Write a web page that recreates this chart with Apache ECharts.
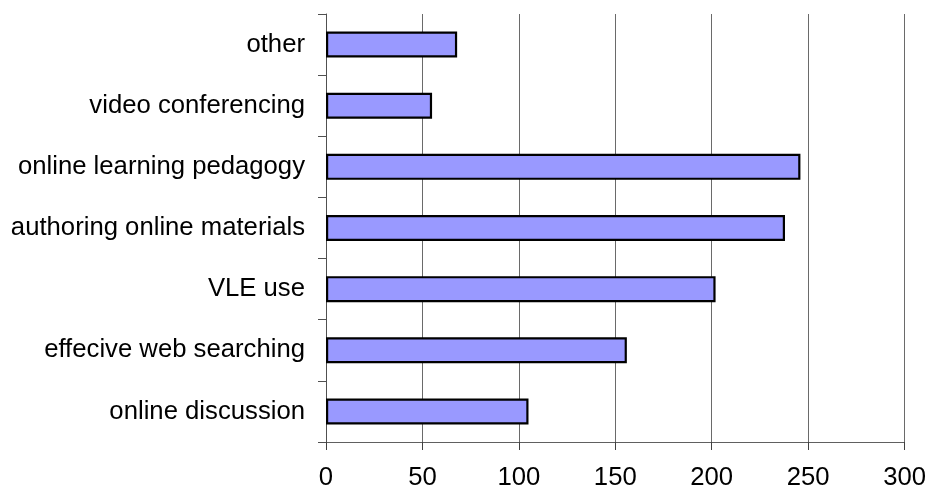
<!DOCTYPE html>
<html>
<head>
<meta charset="utf-8">
<script src="https://cdn.jsdelivr.net/npm/echarts@6/dist/echarts.min.js"></script>
<style>
  html, body { margin: 0; padding: 0; background: #fff; }
  #chart { width: 929px; height: 491px; }
</style>
</head>
<body>
<div id="chart"></div>
<script>
// Training topics, listed bottom to top as they appear on the category axis
const categories = [
  'online discussion',
  'effecive web searching',
  'VLE use',
  'authoring online materials',
  'online learning pedagogy',
  'video conferencing',
  'other'
];
const responses = [105, 156, 202, 238, 246, 55, 68];
const xTicks = [0, 50, 100, 150, 200, 250, 300];

const chart = echarts.init(document.getElementById('chart'));
const font = 'Liberation Sans, Arial, sans-serif';

chart.setOption({
  animation: false,
  backgroundColor: '#ffffff',
  grid: { left: 326, right: 23, top: 14, bottom: 47, containLabel: false },
  xAxis: {
    type: 'value',
    min: xTicks[0],
    max: xTicks[xTicks.length - 1],
    interval: 50,
    axisLine: { show: true, lineStyle: { color: '#606060', width: 1 } },
    axisTick: { show: true, length: 8, lineStyle: { color: '#404040' } },
    splitLine: { show: true, lineStyle: { color: '#6a6a6a', width: 1 } },
    axisLabel: { color: '#000', fontFamily: font, fontSize: 25.7, margin: 23 }
  },
  yAxis: {
    type: 'category',
    data: categories,
    axisLine: { show: true, lineStyle: { color: '#505050', width: 1 } },
    axisTick: { show: true, length: 8, lineStyle: { color: '#505050' } },
    axisLabel: { color: '#000', fontFamily: font, fontSize: 25.7, margin: 21 }
  },
  series: [{
    type: 'bar',
    data: responses,
    barWidth: 26,
    itemStyle: { color: '#9999ff', borderColor: '#000000', borderWidth: 2.2 }
  }]
});
</script>
</body>
</html>
